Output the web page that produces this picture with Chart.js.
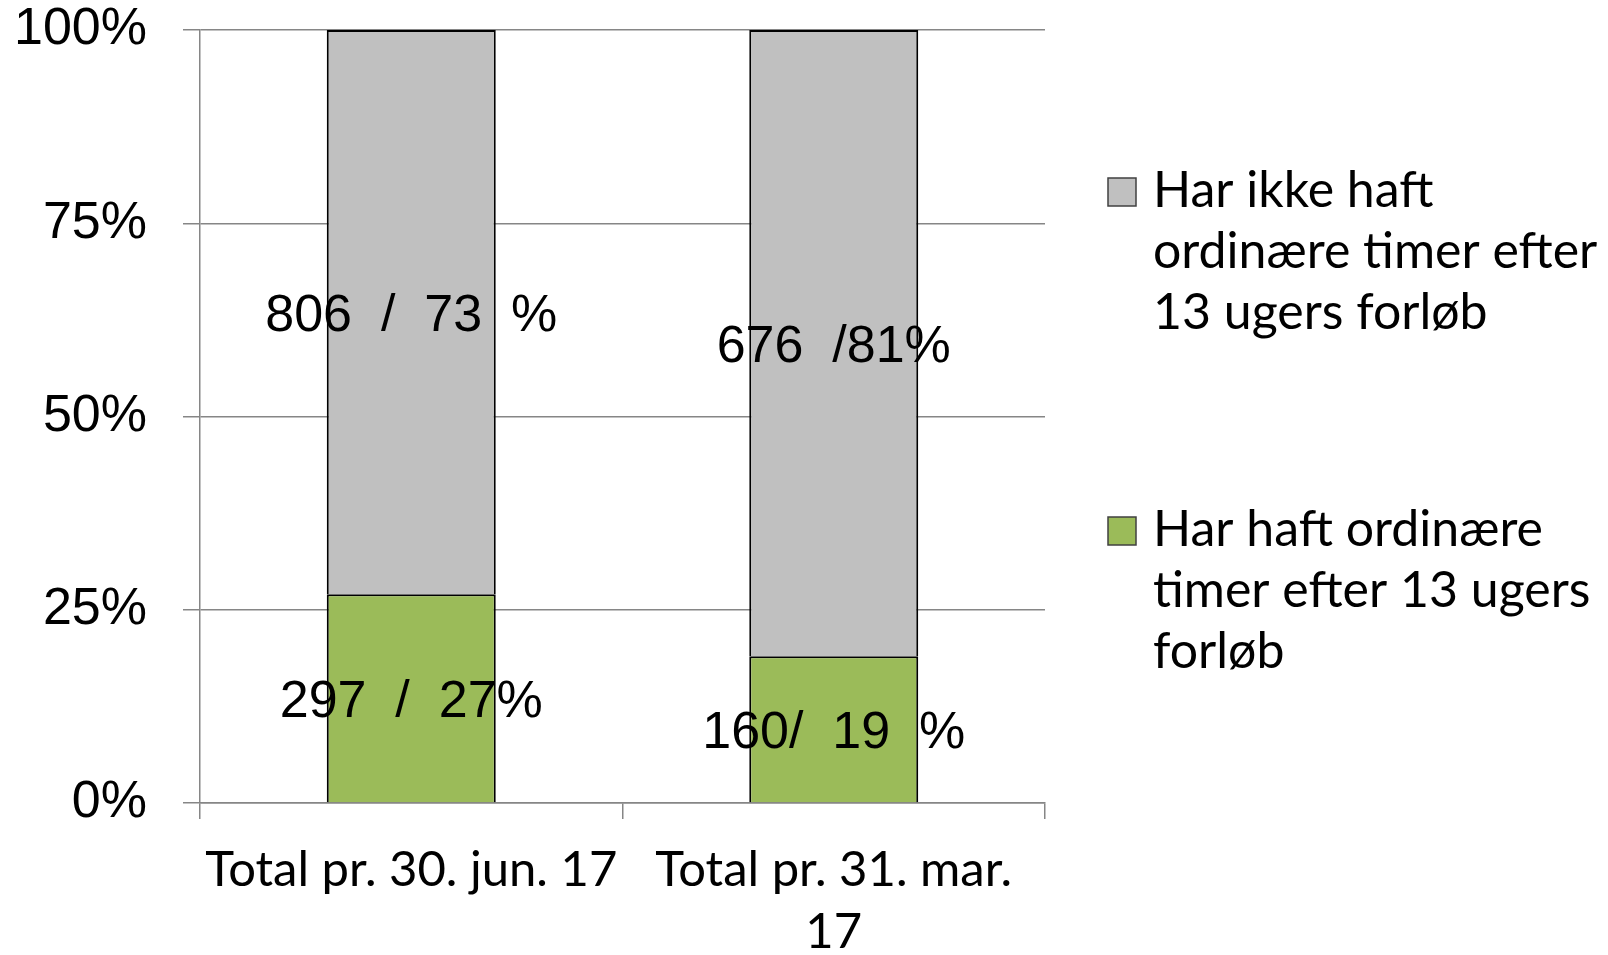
<!DOCTYPE html>
<html>
<head>
<meta charset="utf-8">
<script src="https://cdn.jsdelivr.net/npm/chart.js@4/dist/chart.umd.min.js"></script>
<style>
  html, body { margin: 0; padding: 0; background: #fff; }
  #wrap { width: 1608px; height: 955px; position: relative; }
</style>
</head>
<body>
<div id="wrap"><canvas id="chart"></canvas></div>
<script>
// Data
const categories = ['Total pr. 30. jun. 17', ['Total pr. 31. mar.', '17']]
const hadHours = [27, 19]          // % som har haft ordinære timer
const noHours = [73, 81]           // % som ikke har haft
const hadText = ['297  /  27%', '160/  19  %']
const noText = ['806  /  73  %', '676  /81%']
const hadName = ['Har haft ordinære', 'timer efter 13 ugers', 'forløb']
const noName = ['Har ikke haft', 'ordinære timer efter', '13 ugers forløb']

const GREEN = '#9BBB59'
const GREY = '#C0C0C0'
const AXIS = '#868686'
const ARIAL = '"Liberation Sans", Arial, sans-serif'
const CALIBRI = 'Lato, "Open Sans", sans-serif'

// texts inside the bars, centred on each segment
const segmentLabels = {
  id: 'segmentLabels',
  afterDatasetsDraw(chart) {
    const ctx = chart.ctx
    ctx.save()
    ctx.font = '52px ' + ARIAL
    ctx.fillStyle = '#000'
    ctx.textAlign = 'center'
    ctx.textBaseline = 'alphabetic'
    chart.data.datasets.forEach((ds, di) => {
      chart.getDatasetMeta(di).data.forEach((bar, i) => {
        const mid = (bar.y + bar.base) / 2
        ctx.fillText(ds.segmentText[i], bar.x, mid + 19)
      })
    })
    ctx.restore()
  }
}

// legend on the right, grey series first like Excel
const sideLegend = {
  id: 'sideLegend',
  afterDraw(chart) {
    const ctx = chart.ctx
    const area = chart.chartArea
    const x = area.right + 63
    const blocks = [
      { ds: chart.data.datasets[1], top: area.top + 148 },
      { ds: chart.data.datasets[0], top: area.top + 487 }
    ]
    ctx.save()
    blocks.forEach(b => {
      ctx.fillStyle = b.ds.backgroundColor
      ctx.fillRect(x, b.top, 28, 28)
      ctx.strokeStyle = '#404040'
      ctx.lineWidth = 1.5
      ctx.strokeRect(x, b.top, 28, 28)
      ctx.fillStyle = '#000'
      ctx.font = '50px ' + CALIBRI
      ctx.textAlign = 'left'
      ctx.textBaseline = 'alphabetic'
      b.ds.label.forEach((line, i) => {
        ctx.fillText(line, x + 45, b.top + 29 + i * 61)
      })
    })
    ctx.restore()
  }
}

new Chart(document.getElementById('chart'), {
  type: 'bar',
  data: {
    labels: categories,
    datasets: [
      {
        label: hadName,
        data: hadHours,
        segmentText: hadText,
        backgroundColor: GREEN,
        borderColor: '#000',
        borderWidth: 2
      },
      {
        label: noName,
        data: noHours,
        segmentText: noText,
        backgroundColor: GREY,
        borderColor: '#000',
        borderWidth: 2
      }
    ]
  },
  options: {
    responsive: true,
    maintainAspectRatio: false,
    animation: false,
    devicePixelRatio: 1,
    layout: { padding: { top: 0, right: 563, bottom: 0, left: 0 } },
    datasets: { bar: { categoryPercentage: 0.4, barPercentage: 1 } },
    plugins: {
      legend: { display: false },
      tooltip: { enabled: false }
    },
    scales: {
      x: {
        stacked: true,
        grid: { display: true, drawOnChartArea: false, drawTicks: true, tickLength: 16, color: AXIS, lineWidth: 1.5, offset: true },
        border: { display: true, color: AXIS, width: 1.5 },
        ticks: {
          color: '#000',
          padding: 20,
          maxRotation: 0,
          autoSkip: false,
          font: { family: CALIBRI, size: 49, lineHeight: 62 / 49 }
        },
        afterFit: (scale) => { scale.height = 152 }
      },
      y: {
        stacked: true,
        min: 0,
        max: 100,
        grid: { color: AXIS, lineWidth: 1.5, tickLength: 17 },
        border: { display: true, color: AXIS, width: 1.5 },
        ticks: {
          stepSize: 25,
          color: '#000',
          padding: 36,
          font: { family: ARIAL, size: 52, lineHeight: 1 },
          callback: (v) => v + '%'
        },
        afterFit: (scale) => {
          scale.width = 200
          scale.paddingTop = 30
          scale.paddingBottom = 0
        }
      }
    }
  },
  plugins: [segmentLabels, sideLegend]
})
</script>
</body>
</html>
